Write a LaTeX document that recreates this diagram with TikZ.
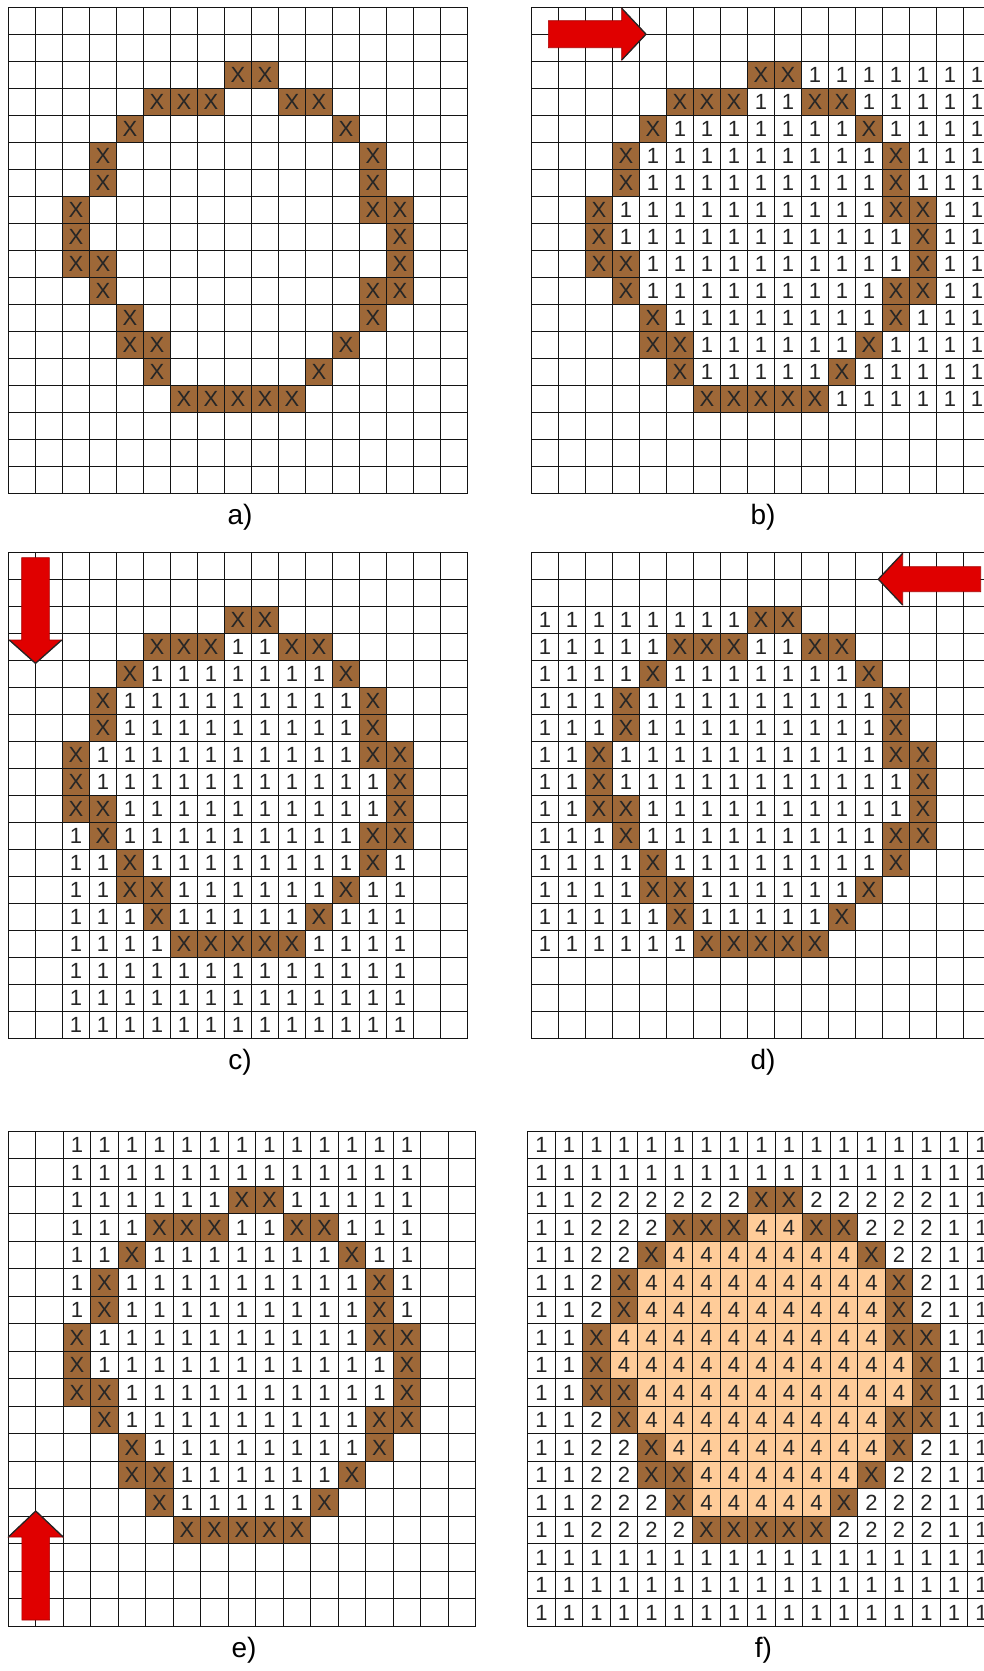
\documentclass[tikz,border=0pt]{standalone}
\usepackage{fontspec}
\setmainfont{Liberation Sans}
\definecolor{xbrown}{RGB}{158,104,56}
\definecolor{peach}{RGB}{255,204,153}
\definecolor{arrred}{RGB}{224,0,0}

\def\rowFirst{{99,99,8,5,4,3,3,2,2,2,3,4,4,5,6,99,99,99}}
\def\rowLast{{-1,-1,9,11,12,13,13,14,14,14,14,13,12,11,10,-1,-1,-1}}
\def\colFirst{{99,99,7,5,4,3,3,3,2,2,3,3,4,5,7,99,99}}
\def\colLast{{-1,-1,9,10,12,13,14,14,14,14,14,13,12,11,10,-1,-1}}
\def\oletter{o}

\newcommand\markX[2]{\foreach \kk in {#2}{\expandafter\gdef\csname ringX-#1-\kk\endcsname{}}}

\newcommand\cellA{\def\cellv{o}}
\newcommand\cellB{\def\cellv{o}\ifnum\ci>\pRF\relax\def\cellv{1}\fi}
\newcommand\cellC{\def\cellv{o}\ifnum\ri>\pCF\relax\def\cellv{1}\fi}
\newcommand\cellD{\def\cellv{o}\ifnum\ci<\pRL\relax\def\cellv{1}\fi}
\newcommand\cellE{\def\cellv{o}\ifnum\ri<\pCL\relax\def\cellv{1}\fi}
\newcommand\cellF{\def\cellv{1}%
 \ifnum\ri>1 \ifnum\ri<15 \ifnum\ci>1 \ifnum\ci<15 \def\cellv{2}\fi\fi\fi\fi
 \ifnum\ci>\pRF\relax\ifnum\ci<\pRL\relax\ifnum\ri>\pCF\relax\ifnum\ri<\pCL\relax\def\cellv{4}\fi\fi\fi\fi}

\newcommand\gridpanel[6]{%
 \foreach \ri in {0,...,17}{%
  \foreach \ci in {0,...,16}{%
   \pgfmathtruncatemacro\pRF{\rowFirst[\ri]}%
   \pgfmathtruncatemacro\pRL{\rowLast[\ri]}%
   \pgfmathtruncatemacro\pCF{\colFirst[\ci]}%
   \pgfmathtruncatemacro\pCL{\colLast[\ci]}%
   \csname cell#2\endcsname
   \ifcsname ringX-\ri-\ci\endcsname\def\cellv{X}\fi
   \edef\cellstyle{cell\cellv}%
   \node[cellbase, \cellstyle, minimum width=#5pt, minimum height=#5pt] (#1-\ri-\ci) at ({#3+(\ci+0.5)*#5},{#4+(\ri+0.5)*#5}) {\ifx\cellv\oletter\else\cellv\fi};
  }}
 \foreach \i in {0,...,17} \draw[gridline] ({#3+\i*#5},#4) -- ({#3+\i*#5},{#4+18*#5});
 \foreach \j in {0,...,18} \draw[gridline] (#3,{#4+\j*#5}) -- ({#3+17*#5},{#4+\j*#5});
 \node[panellabel] (#1-label) at ({#3+8.5*#5+2},{#4+18*#5+24}) {#6};
}

\begin{document}
\begin{tikzpicture}[x=1pt,y=-1pt,
  cellbase/.style={inner sep=0pt, outer sep=0pt, anchor=center, text=black!85, font=\fontsize{22}{22}\selectfont},
  cellX/.style={fill=xbrown},
  cell4/.style={fill=peach},
  cell1/.style={},
  cell2/.style={},
  cello/.style={},
  gridline/.style={draw=black!92, line width=1.35pt, line cap=rect},
  panellabel/.style={inner sep=0pt, font=\fontsize{28}{28}\selectfont},
  blockarrow/.style={fill=arrred, draw=arrred!75!black, line width=0.6pt},
  headedge/.style={draw=black!85, line width=1.3pt, line join=round}]
\useasboundingbox (0,0) rectangle (984,1671);
\clip (0,0) rectangle (984,1671);
\fill[white] (0,0) rectangle (984,1671);

\markX{2}{8,9}
\markX{3}{5,6,7,10,11}
\markX{4}{4,12}
\markX{5}{3,13}
\markX{6}{3,13}
\markX{7}{2,13,14}
\markX{8}{2,14}
\markX{9}{2,3,14}
\markX{10}{3,13,14}
\markX{11}{4,13}
\markX{12}{4,5,12}
\markX{13}{5,11}
\markX{14}{6,7,8,9,10}

\gridpanel{a}{A}{8.5}{7.5}{27}{a)}
\gridpanel{b}{B}{531.5}{7.5}{27}{b)}
\gridpanel{c}{C}{8.5}{552.5}{27}{c)}
\gridpanel{d}{D}{531.5}{552.5}{27}{d)}
\gridpanel{e}{E}{8.25}{1131.25}{27.5}{e)}
\gridpanel{f}{F}{527.75}{1131.25}{27.5}{f)}

% arrow b (right)
\draw[blockarrow] (548.3,20.7) -- (621.7,20.7) -- (621.7,8.3) -- (646,34.2) -- (621.7,60) -- (621.7,47.7) -- (548.3,47.7) -- cycle;
\draw[headedge] (621.7,8.3) -- (646,34.2) -- (621.7,60);
% arrow c (down)
\draw[blockarrow] (21.7,557.7) -- (49.3,557.7) -- (49.3,640) -- (61.7,640) -- (35.5,663.3) -- (9.3,640) -- (21.7,640) -- cycle;
\draw[headedge] (61.7,640) -- (35.5,663.3) -- (9.3,640);
% arrow d (left)
\draw[blockarrow] (980.7,566.7) -- (902.7,566.7) -- (902.7,553.3) -- (878.3,579.2) -- (902.7,605) -- (902.7,591.7) -- (980.7,591.7) -- cycle;
\draw[headedge] (902.7,553.3) -- (878.3,579.2) -- (902.7,605);
% arrow e (up)
\draw[blockarrow] (21.9,1620) -- (21.9,1537) -- (8.3,1537) -- (35.75,1511) -- (63.2,1537) -- (49.6,1537) -- (49.6,1620) -- cycle;
\draw[headedge] (8.3,1537) -- (35.75,1511) -- (63.2,1537);
\end{tikzpicture}
\end{document}
